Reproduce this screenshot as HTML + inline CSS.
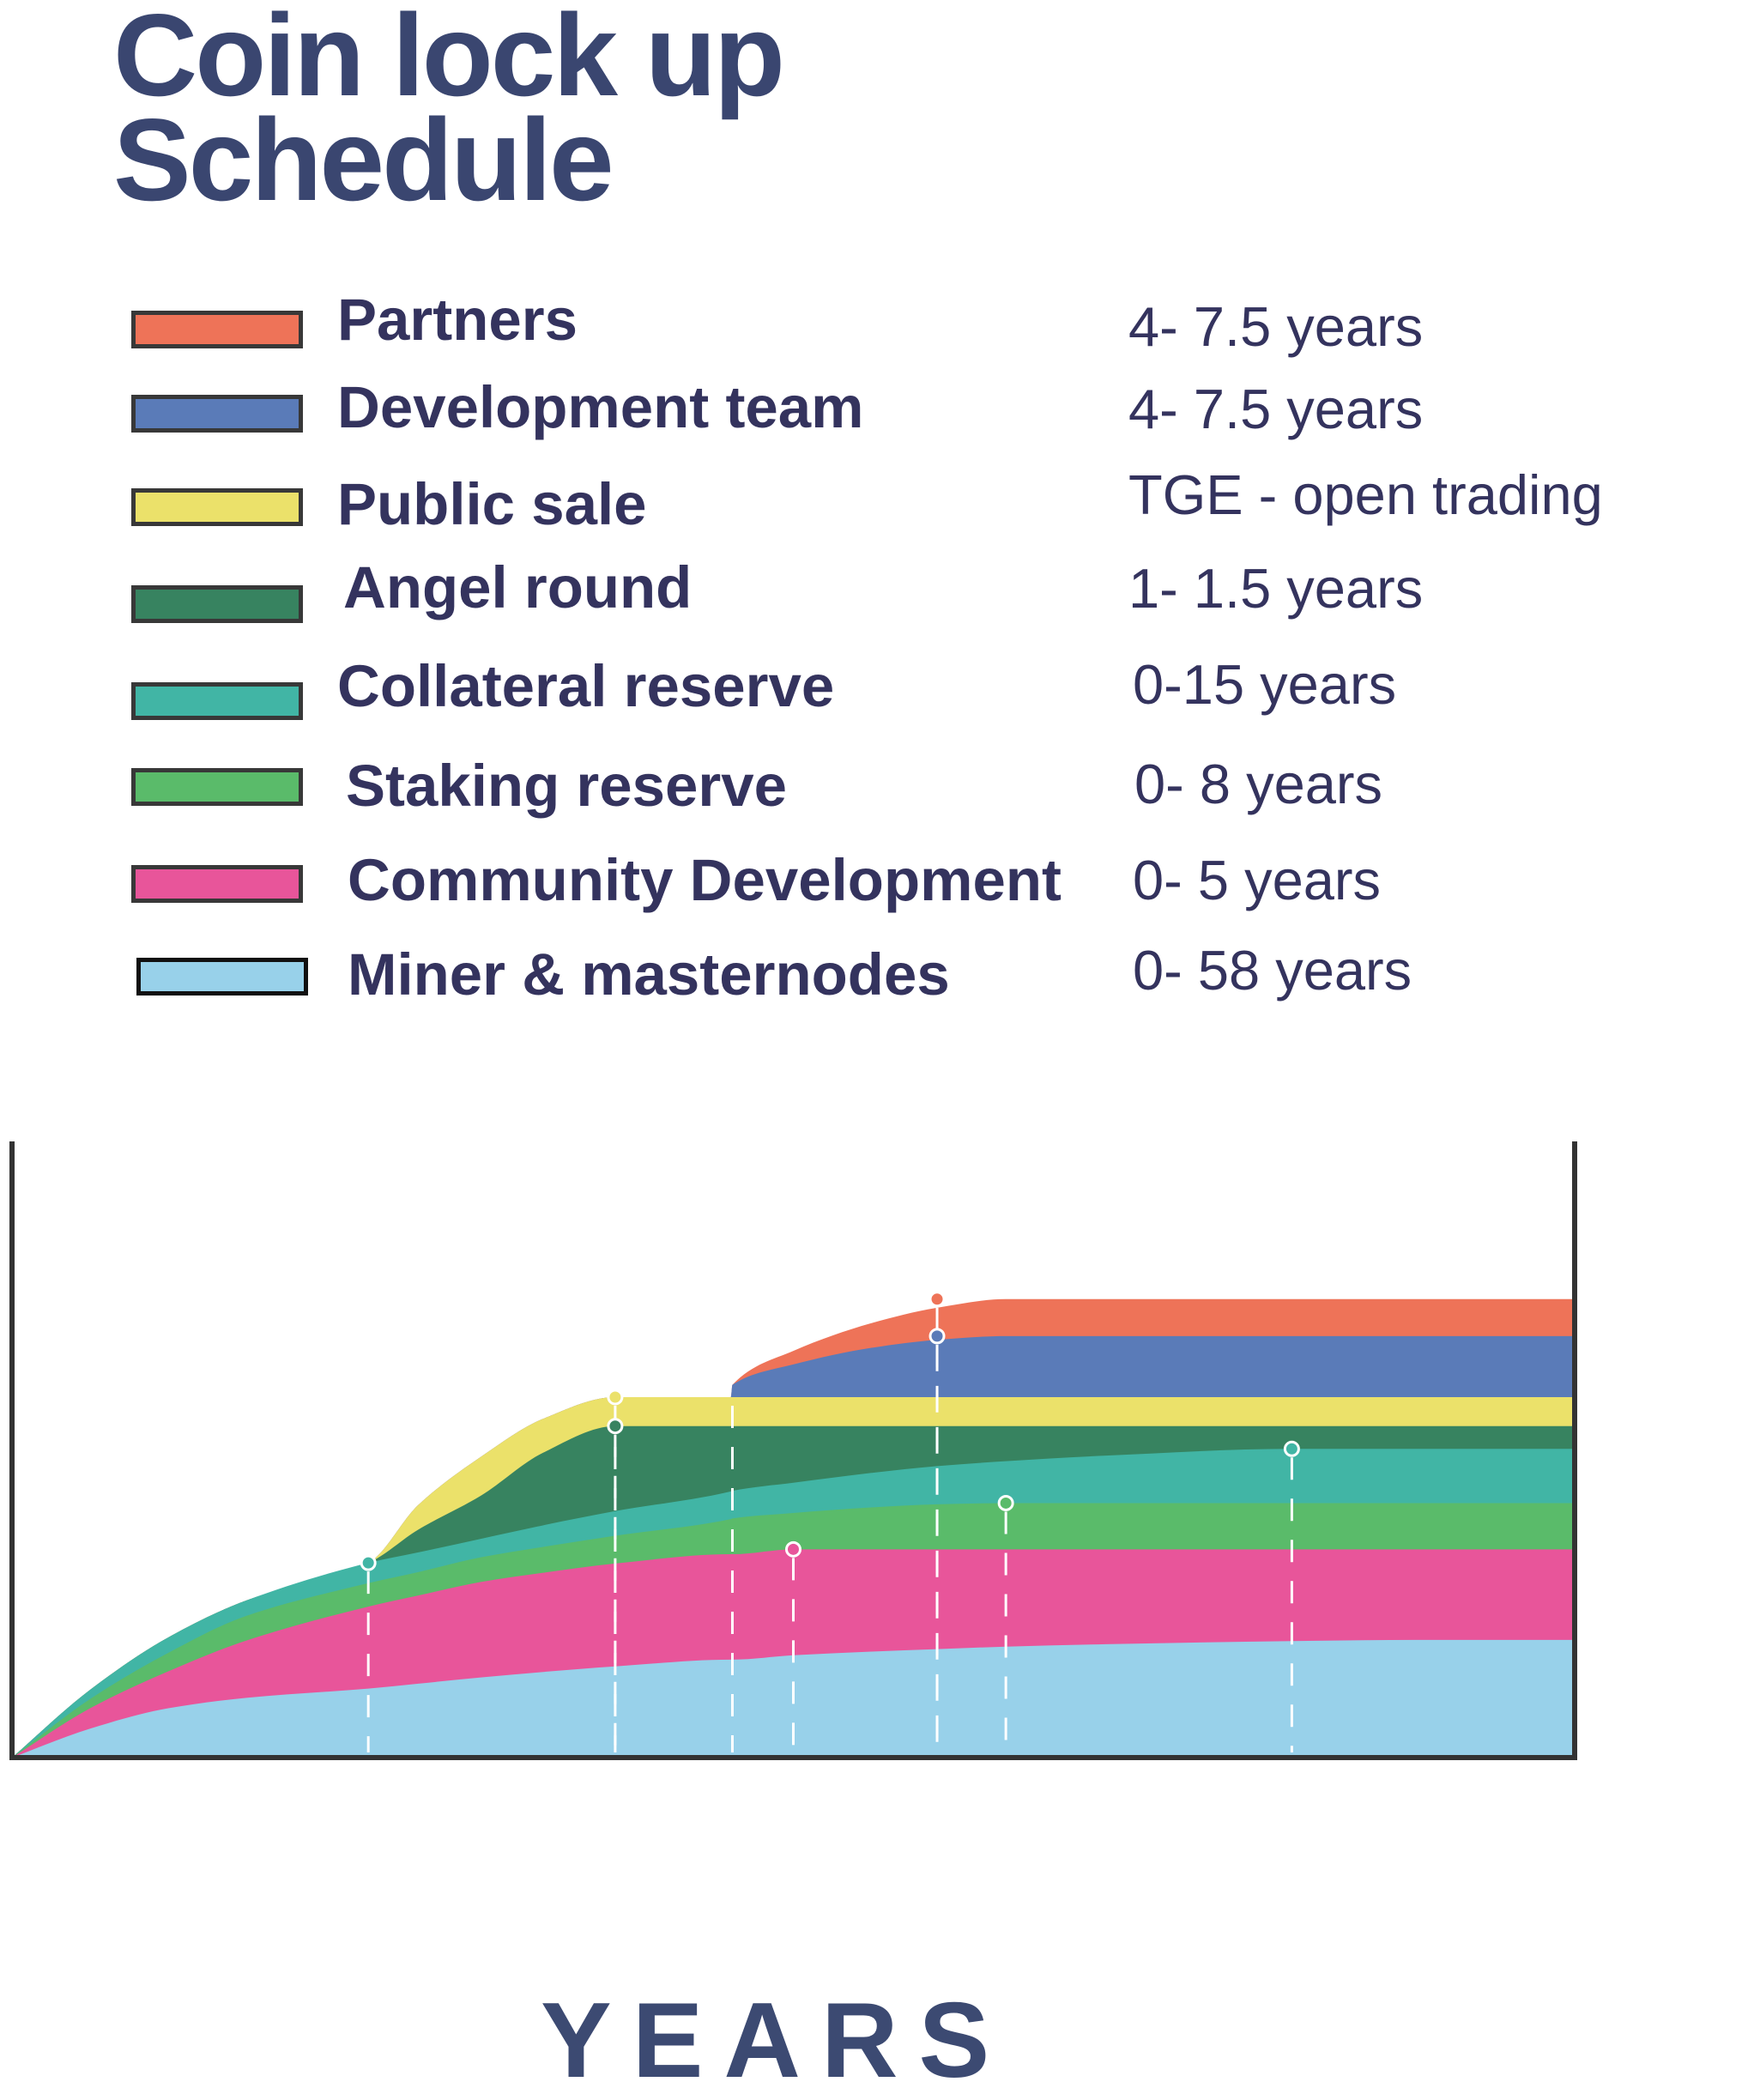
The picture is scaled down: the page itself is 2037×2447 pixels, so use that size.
<!DOCTYPE html>
<html><head><meta charset="utf-8"><style>
html,body{margin:0;padding:0;background:#fff;}
body{width:2037px;height:2425px;position:relative;overflow:hidden;font-family:"Liberation Sans",sans-serif;}
.t{position:absolute;color:#3a4670;font-weight:bold;font-size:136px;line-height:1;letter-spacing:-3px;}
.sw{position:absolute;left:153px;width:190px;height:34px;border:5px solid #383838;}
.lb{position:absolute;left:393px;font-weight:bold;font-size:69px;color:#34335e;line-height:1;}
.rt{position:absolute;left:1315px;font-size:65px;color:#34335e;line-height:1;}
</style></head><body>
<div class="t" style="left:132px;top:-4px;">Coin lock up</div>
<div class="t" style="left:132px;top:118px;">Schedule</div>

<div class="sw" style="top:362px;background:#ee7358"></div>
<div class="lb" style="top:338px">Partners</div>
<div class="rt" style="top:348px">4- 7.5 years</div>

<div class="sw" style="top:460px;background:#5a7bb8"></div>
<div class="lb" style="top:440px">Development team</div>
<div class="rt" style="top:444px">4- 7.5 years</div>

<div class="sw" style="top:569px;background:#ebe16a"></div>
<div class="lb" style="top:553px">Public sale</div>
<div class="rt" style="top:544px">TGE - open trading</div>

<div class="sw" style="top:682px;background:#378360"></div>
<div class="lb" style="top:650px;left:400px">Angel round</div>
<div class="rt" style="top:653px">1- 1.5 years</div>

<div class="sw" style="top:795px;background:#41b5a5"></div>
<div class="lb" style="top:765px">Collateral reserve</div>
<div class="rt" style="top:765px;left:1320px">0-15 years</div>

<div class="sw" style="top:895px;background:#5abb6a"></div>
<div class="lb" style="top:881px;left:403px">Staking reserve</div>
<div class="rt" style="top:881px;left:1322px">0- 8 years</div>

<div class="sw" style="top:1008px;background:#e8559a"></div>
<div class="lb" style="top:991px;left:405px">Community Development</div>
<div class="rt" style="top:993px;left:1320px">0- 5 years</div>

<div class="sw" style="top:1116px;left:159px;background:#98d1ea;border-color:#111"></div>
<div class="lb" style="top:1101px;left:405px">Miner &amp; masternodes</div>
<div class="rt" style="top:1098px;left:1320px">0- 58 years</div>

<svg id="chart" width="2037" height="2425" style="position:absolute;left:0;top:0"></svg>

<div style="position:absolute;left:630px;top:2316px;font-weight:bold;font-size:124px;letter-spacing:24px;color:#3c4a72;line-height:1;">YEARS</div>

<script>
const xs = [0,5,10,15,22.8,26,30,34,38.6,46.0,46.1,50,55,59.2,63.6,70,81.9,90,100];
const seriesNames = ["partners","development-team","public-sale","angel-round","collateral-reserve","staking-reserve","community-development","miner-masternodes"];
const seriesColors = ["#ee7358","#5a7bb8","#ebe16a","#378360","#41b5a5","#5abb6a","#e8559a","#98d1ea"];
const partnersTop   = [0,11,19.5,25.5,31.6,41,48.8,55,58.5,58.5,60.5,66,70.5,73,74.4,74.4,74.4,74.4,74.4];
const devTop        = [0,11,19.5,25.5,31.6,41,48.8,55,58.5,58.5,60.5,63.8,66.5,67.8,68.4,68.4,68.4,68.4,68.4];
const publicTop     = [0,11,19.5,25.5,31.6,41,48.8,55,58.5,58.5,58.5,58.5,58.5,58.5,58.5,58.5,58.5,58.5,58.5];
const angelTop      = [0,11,19.5,25.5,31.6,37,42.5,49.5,53.8,53.8,53.8,53.8,53.8,53.8,53.8,53.8,53.8,53.8,53.8];
const collateralTop = [0,11,19.5,25.5,31.6,33.3,35.5,37.7,40,43.2,43.3,44.6,46.2,47.3,48.1,49,50.1,50.1,50.1];
const stakingTop    = [0,9.5,17,23,28.3,30.1,32.5,34.2,36,38.7,38.8,39.7,40.6,41.1,41.3,41.3,41.3,41.3,41.3];
const communityTop  = [0,8,14,19,24.5,26.3,28.5,30,31.5,33,33,33.8,33.8,33.8,33.8,33.8,33.8,33.8,33.8];
const minerTop      = [0,4.7,8,9.7,11.2,12,13,13.9,14.8,15.9,15.9,16.6,17.2,17.6,18,18.4,18.9,19.1,19.1];
const markerX = [22.8,38.6,38.6,46.1,50,59.2,59.2,63.6,81.9];
const markerY = [31.6,58.5,53.8,58.5,33.8,74.4,68.4,41.3,50.1];
const markerFill = ["#41b5a5","#ebe16a","#378360","none","#e8559a","#ee7358","#5a7bb8","#5abb6a","#41b5a5"];

const X0=14,X1=1835,Y0=2048,Y1=1330;
function sx(v){return X0+(X1-X0)*v/100;}
function sy(v){return Y0-(Y0-Y1)*v/100;}
const NS="http://www.w3.org/2000/svg";
const svg=document.getElementById('chart');
function curve(vals){
  const n=xs.length, X=xs.map(sx), Y=vals.map(sy);
  const d=[],m=new Array(n);
  for(let i=0;i<n-1;i++) d.push((Y[i+1]-Y[i])/(X[i+1]-X[i]));
  m[0]=d[0]; m[n-1]=d[n-2];
  for(let i=1;i<n-1;i++){ m[i]=(d[i-1]*d[i]<=0)?0:(2/(1/d[i-1]+1/d[i])); }
  let s="M"+X[0]+","+Y[0];
  for(let i=0;i<n-1;i++){
    const h=(X[i+1]-X[i])/3;
    s+=" C"+(X[i]+h)+","+(Y[i]+m[i]*h)+" "+(X[i+1]-h)+","+(Y[i+1]-m[i+1]*h)+" "+X[i+1]+","+Y[i+1];
  }
  return s+" L"+sx(100)+","+sy(0)+" L"+sx(0)+","+sy(0)+" Z";
}
const tops=[partnersTop,devTop,publicTop,angelTop,collateralTop,stakingTop,communityTop,minerTop];
tops.forEach((t,i)=>{
  const path=document.createElementNS(NS,'path');
  path.setAttribute('d',curve(t));
  path.setAttribute('fill',seriesColors[i]);
  
  
  svg.appendChild(path);
});
markerX.forEach((mx,i)=>{
  const ln=document.createElementNS(NS,'line');
  ln.setAttribute('x1',sx(mx));ln.setAttribute('x2',sx(mx));
  ln.setAttribute('y1',sy(markerY[i])+10);ln.setAttribute('y2',Y0-6);
  ln.setAttribute('stroke','#fff');ln.setAttribute('stroke-width','3');ln.setAttribute('stroke-dasharray','26 22');
  
  
  svg.appendChild(ln);
});
markerX.forEach((mx,i)=>{
  if(markerFill[i]==="none")return;
  const c=document.createElementNS(NS,'circle');
  c.setAttribute('cx',sx(mx));c.setAttribute('cy',sy(markerY[i]));c.setAttribute('r','8');
  c.setAttribute('fill',markerFill[i]);c.setAttribute('stroke','#fff');c.setAttribute('stroke-width','3');
  
  
  svg.appendChild(c);
});
const ax=document.createElementNS(NS,'path');
ax.setAttribute('d',`M${X0},${Y1} L${X0},${Y0} L${X1},${Y0} L${X1},${Y1}`);
ax.setAttribute('fill','none');ax.setAttribute('stroke','#333');ax.setAttribute('stroke-width','6');


svg.appendChild(ax);
</script>
</body></html>
